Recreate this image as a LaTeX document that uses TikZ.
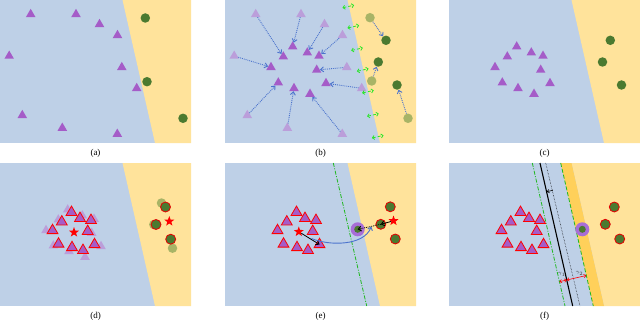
\documentclass[tikz,border=0pt]{standalone}
\usepackage{fontspec}
\setmainfont{Liberation Serif}
\usetikzlibrary{shapes.geometric,arrows.meta}
\definecolor{bgblue}{RGB}{190,208,231}
\definecolor{bgyellow}{RGB}{255,227,155}
\definecolor{bandcol}{RGB}{255,208,90}
\definecolor{colTri}{RGB}{165,92,200}
\definecolor{colTriFade}{RGB}{187,158,218}
\definecolor{colCirc}{RGB}{75,122,48}
\definecolor{colCircFade}{RGB}{168,180,102}
\definecolor{arrblue}{RGB}{75,115,205}
\definecolor{brightgreen}{RGB}{40,230,40}
\definecolor{halocol}{RGB}{168,110,215}
\newcommand\panelbg{%
  \fill[bgblue] (0,0) rectangle (191,143);
  \fill[bgyellow] (122.5,0) -- (191,0) -- (191,143) -- (155,143) -- cycle;}
\tikzset{
  trinode/.style={regular polygon, regular polygon sides=3, minimum size=11pt, inner sep=0pt, fill=colTri},
  trifade/.style={trinode, fill=colTriFade},
  trired/.style={regular polygon, regular polygon sides=3, minimum size=12.5pt, inner sep=0pt, fill=colTri, draw=red, line width=0.8pt},
  gdot/.style={circle, minimum size=9.5pt, inner sep=0pt, fill=colCirc},
  gdotfade/.style={gdot, fill=colCircFade},
  gdotred/.style={circle, minimum size=10pt, inner sep=0pt, fill=colCirc, draw=red!90!black, line width=0.8pt},
  halonode/.style={circle, minimum size=14pt, inner sep=0pt, fill=halocol},
  haloin/.style={circle, minimum size=7pt, inner sep=0pt, fill=colCirc},
  redstar/.style={star, star points=5, star point ratio=2.4, minimum size=10.5pt, inner sep=0pt, fill=red},
  bluearr/.style={arrblue, line width=0.9pt, densely dotted, -{Straight Barb[length=3pt,width=5pt]}},
  greenarr/.style={brightgreen, line width=0.8pt, densely dashed, {Straight Barb[length=2pt,width=4pt]}-{Straight Barb[length=2pt,width=4pt]}},
  blackarr/.style={black, line width=0.8pt, -{Straight Barb[length=3pt,width=5pt]}},
  blackdots/.style={black, line width=0.8pt, densely dotted, -{Straight Barb[length=3pt,width=5pt]}},
  bluecurve/.style={arrblue, line width=0.9pt, -{Straight Barb[length=3pt,width=5pt]}},
  redarr/.style={red, line width=0.6pt, {Straight Barb[length=2pt,width=3.5pt]}-{Straight Barb[length=2pt,width=3.5pt]}},
  greendashdot/.style={brightgreen!80!black, line width=0.8pt, dash pattern=on 4pt off 1.5pt on 1pt off 1.5pt},
  greendash/.style={brightgreen!80!black, line width=0.8pt, dash pattern=on 4pt off 2pt},
  plabel/.style={font=\fontsize{9}{10}\selectfont, inner sep=0pt},
  glabel/.style={font=\fontsize{5}{6}\selectfont, inner sep=0pt, text=black!80}
}
\begin{document}
\begin{tikzpicture}[x=1pt,y=-1pt]
\useasboundingbox (0,0) rectangle (640,321);
% ---------------- (a)
\begin{scope}
\panelbg
\foreach \x/\y [count=\i] in {30.7/14.3,76/14.3,99.5/24.3,117.5/35.3,9.2/56,121.8/67.3,136.7/88.3,22.3/115.3,62.3/128,117.3/134}
  \node[trinode] (a-t\i) at (\x,\y) {};
\foreach \x/\y [count=\i] in {145.3/18,147/81.7,183/118.3}
  \node[gdot] (a-c\i) at (\x,\y) {};
\node[plabel] (la) at (95.5,153) {(a)};
\end{scope}
% ---------------- (b)
\begin{scope}[shift={(225,0)}]
\panelbg
\foreach \x/\y [count=\i] in {30.7/14.3,76/14.3,99.5/24.3,117.5/35.3,9.2/56,121.8/67.3,136.7/88.3,22.3/115.3,62.3/128,117.3/134}
  \node[trifade] (b-f\i) at (\x,\y) {};
\foreach \x/\y [count=\i] in {58.3/56.7,67.7/46.7,82.3/52.7,94/56,46/67.3,91.7/70,101/83.3,53.3/82.7,69/88.3,85/94}
  \node[trinode] (b-d\i) at (\x,\y) {};
\foreach \i in {1,...,10}
  \draw[bluearr] (b-f\i) -- (b-d\i);
\foreach \x/\y [count=\i] in {145/17.7,146.7/81,183/118.3}
  \node[gdotfade] (b-g\i) at (\x,\y) {};
\foreach \x/\y [count=\i] in {161/40.3,153.3/62,172/85}
  \node[gdot] (b-c\i) at (\x,\y) {};
\foreach \i in {1,2,3}
  \draw[bluearr] (b-g\i) -- (b-c\i);
\foreach \x/\y [count=\i] in {123.3/6.5,128.3/26.7,132/49.2,137.7/70,142.9/91.7,147.9/115,152.7/136.7} {
  \coordinate (b-gl\i) at (\x-5.85,\y+1.33);
  \coordinate (b-gr\i) at (\x+5.85,\y-1.33);
  \draw[greenarr] (b-gl\i) -- (b-gr\i);
}
\node[plabel] (lb) at (95.5,153) {(b)};
\end{scope}
% ---------------- (c)
\begin{scope}[shift={(449,0)}]
\panelbg
\foreach \x/\y [count=\i] in {58.3/56.7,67.7/46.7,82.3/52.7,94/56,46/67.3,91.7/70,101/83.3,53.3/82.7,69/88.3,85/94}
  \node[trinode] (c-t\i) at (\x,\y) {};
\foreach \x/\y [count=\i] in {161.3/40.3,153.5/62,172.5/85}
  \node[gdot] (c-c\i) at (\x,\y) {};
\node[plabel] (lc) at (95.5,153) {(c)};
\end{scope}
% ---------------- (d)
\begin{scope}[shift={(0,163)}]
\panelbg
\foreach \x/\y [count=\i] in {58.3/56.7,67.7/46.7,82.3/52.7,94/56,46/67.3,91.7/70,101/83.3,53.3/82.7,69/88.3,85/94}
  \node[trifade] (d-f\i) at (\x,\y) {};
\foreach \x/\y [count=\i] in {61.8/58.8,71.5/49.3,80/55.3,91/57.3,52.5/67.5,87.7/68.3,94.5/81.5,58.5/81,72/84.5,83/87.3}
  \node[trired] (d-t\i) at (\x,\y) {};
\node[redstar] (d-s1) at (74,69.3) {};
\foreach \x/\y [count=\i] in {161.5/40,153.8/61.5,172.5/85.2}
  \node[gdotfade] (d-g\i) at (\x,\y) {};
\foreach \x/\y [count=\i] in {165.5/44,156/61.5,170.7/76.2}
  \node[gdotred] (d-c\i) at (\x,\y) {};
\node[redstar] (d-s2) at (169.3,58.3) {};
\node[plabel] (ld) at (95.5,153) {(d)};
\end{scope}
% ---------------- (e)
\begin{scope}[shift={(225,163)}]
\panelbg
\coordinate (e-l1) at (108.3,0);
\coordinate (e-l2) at (141.7,143);
\draw[greendashdot] (e-l1) -- (e-l2);
\foreach \x/\y [count=\i] in {61.8/58.8,71.5/49.3,80/55.3,91/57.3,52.5/67.5,87.7/68.3,94.5/81.5,58.5/81,72/84.5,83/87.3}
  \node[trired] (e-t\i) at (\x,\y) {};
\node[redstar] (e-s1) at (73.8,68.7) {};
\draw[blackarr] (e-s1) -- (e-t7.center);
\node[halonode] (e-h) at (132.7,66.3) {};
\node[haloin] (e-hi) at (132.7,66.3) {};
\foreach \x/\y [count=\i] in {165.3/43.8,155.8/61.3,170.3/76}
  \node[gdotred] (e-c\i) at (\x,\y) {};
\node[redstar] (e-s2) at (168.5,57.8) {};
\draw[blackarr] (e-s2) -- (e-c2.center);
\draw[blackdots] (e-c2.center) -- (e-h.center);
\coordinate (e-bs) at (86.5,75.5);
\coordinate (e-be) at (146.3,63.5);
\draw[bluecurve] (e-bs) .. controls (104,83) and (139,83) .. (e-be);
\node[plabel] (le) at (95.5,153) {(e)};
\end{scope}
% ---------------- (f)
\begin{scope}[shift={(449,163)}]
\panelbg
\fill[bandcol] (111.7,0) -- (122.5,0) -- (155,143) -- (144.3,143) -- cycle;
\coordinate (f-a1) at (83.3,0);  \coordinate (f-a2) at (116,143);
\coordinate (f-b1) at (91,0);    \coordinate (f-b2) at (123.7,143);
\coordinate (f-c1) at (96.7,0);  \coordinate (f-c2) at (131,143);
\coordinate (f-d1) at (111.7,0); \coordinate (f-d2) at (144.3,143);
\draw[greendashdot] (f-a1) -- (f-a2);
\draw[black, line width=1.1pt] (f-b1) -- (f-b2);
\draw[black, line width=0.5pt, densely dotted] (f-c1) -- (f-c2);
\draw[greendash] (f-d1) -- (f-d2);
\coordinate (f-k1) at (103.8,27.3);
\coordinate (f-k2) at (97.8,28.7);
\draw[black, line width=0.6pt, -{Straight Barb[length=2pt,width=3.5pt]}] (f-k1) -- (f-k2);
\coordinate (f-r1) at (110.4,118.7);
\coordinate (f-r2) at (117.75,117);
\coordinate (f-r3) at (137.3,112.5);
\draw[redarr] (f-r1) -- (f-r2);
\draw[redarr] (f-r2) -- (f-r3);
\node[glabel] (f-g1) at (112.8,111.5) {$\gamma_1$};
\node[glabel] (f-g2) at (130.5,110.3) {$\gamma_2$};
\foreach \x/\y [count=\i] in {61.8/58.8,71.5/49.3,80/55.3,91/57.3,52.5/67.5,87.7/68.3,94.5/81.5,58.5/81,72/84.5,83/87.3}
  \node[trired] (f-t\i) at (\x,\y) {};
\node[halonode] (f-h) at (133.3,66.3) {};
\node[haloin] (f-hi) at (133.3,66.3) {};
\foreach \x/\y [count=\i] in {165.3/44,156.3/61.3,170.7/76}
  \node[gdotred] (f-c\i) at (\x,\y) {};
\node[plabel] (lf) at (95.5,153) {(f)};
\end{scope}
\end{tikzpicture}
\end{document}
